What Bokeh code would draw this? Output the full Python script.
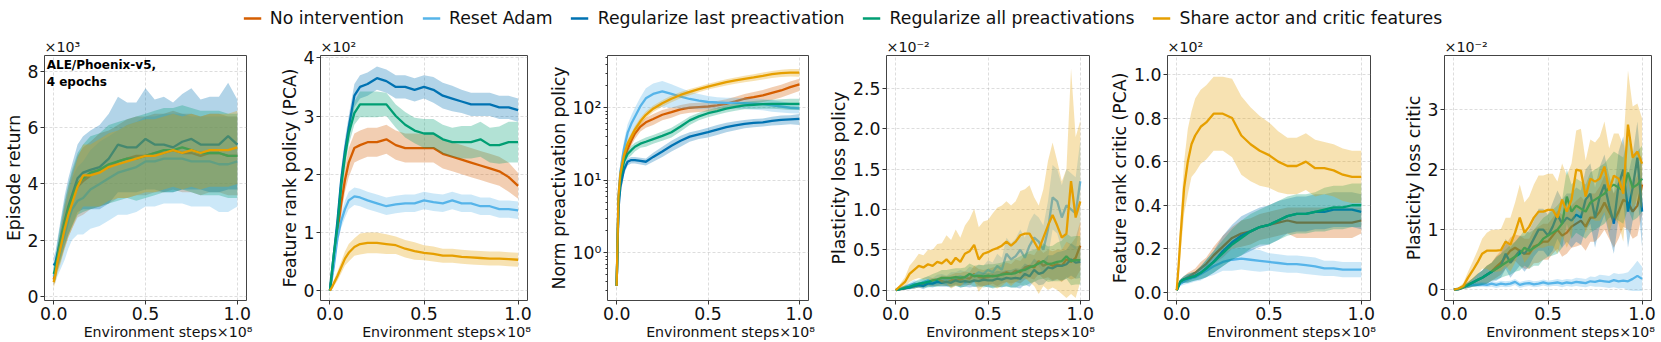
from bokeh.plotting import figure
from bokeh.models import Range1d, Label, FixedTicker, NumeralTickFormatter, Legend, LegendItem
from bokeh.layouts import row, column
from bokeh.embed import file_html
from bokeh.resources import INLINE

FONT = "DejaVu Sans"
SERIES = ["No intervention", "Reset Adam", "Regularize last preactivation",
          "Regularize all preactivations", "Share actor and critic features"]
COLORS = ["#D55E00", "#56B4E9", "#0072B2", "#009E73", "#E69F00"]

# x positions (environment steps, x1e8)
STEPS_S = [0.0, 0.01, 0.02, 0.04, 0.06, 0.08, 0.10, 0.13, 0.16, 0.20, 0.25, 0.30, 0.35,
           0.40, 0.45, 0.50, 0.55, 0.60, 0.65, 0.70, 0.75, 0.80, 0.85, 0.90, 0.95, 1.0]
STEPS_J = [0.0, 0.025, 0.05, 0.075, 0.1, 0.125, 0.15, 0.175, 0.2, 0.225,
           0.25, 0.275, 0.3, 0.325, 0.35, 0.375, 0.4, 0.425, 0.45, 0.475,
           0.5, 0.525, 0.55, 0.575, 0.6, 0.625, 0.65, 0.675, 0.7, 0.725,
           0.75, 0.775, 0.8, 0.825, 0.85, 0.875, 0.9, 0.925, 0.95, 0.975, 1.0]

# ---- Episode return (x1e3) ----
RETURN_MEAN = [
    [0.6, 0.9, 1.3, 1.9, 2.5, 3.0, 3.4, 3.9, 4.1, 4.3, 4.5, 4.6, 4.8, 4.9, 5.0, 5.0, 5.1, 5.1, 5.2, 5.1, 5.1, 5.0, 5.1, 5.1, 5.0, 5.0],
    [0.7, 0.9, 1.2, 1.7, 2.2, 2.7, 3.1, 3.4, 3.5, 3.8, 4.0, 4.2, 4.4, 4.5, 4.6, 4.8, 4.8, 4.9, 4.9, 4.9, 4.8, 4.8, 4.8, 4.7, 4.7, 4.8],
    [1.1, 1.2, 1.5, 2.1, 2.7, 3.2, 3.6, 4.2, 4.4, 4.5, 4.6, 4.9, 5.4, 5.3, 5.3, 5.6, 5.4, 5.4, 5.3, 5.5, 5.6, 5.4, 5.4, 5.4, 5.7, 5.4],
    [0.8, 1.0, 1.4, 2.0, 2.6, 3.1, 3.5, 4.0, 4.2, 4.4, 4.5, 4.7, 4.8, 4.9, 4.9, 5.0, 5.1, 5.2, 5.2, 5.3, 5.2, 5.1, 5.1, 5.1, 5.0, 5.0],
    [0.5, 0.8, 1.2, 1.8, 2.4, 2.9, 3.3, 3.9, 4.3, 4.3, 4.4, 4.6, 4.7, 4.8, 4.9, 5.0, 5.0, 5.1, 5.2, 5.1, 5.2, 5.1, 5.2, 5.2, 5.2, 5.3],
]
RETURN_SD = [
    [0.2, 0.3, 0.4, 0.6, 0.8, 0.9, 1.0, 1.1, 1.2, 1.2, 1.3, 1.3, 1.3, 1.4, 1.4, 1.4, 1.4, 1.4, 1.4, 1.4, 1.4, 1.4, 1.4, 1.4, 1.4, 1.4],
    [0.3, 0.4, 0.5, 0.7, 0.9, 1.0, 1.1, 1.2, 1.3, 1.4, 1.5, 1.5, 1.5, 1.6, 1.6, 1.6, 1.6, 1.6, 1.6, 1.6, 1.6, 1.6, 1.6, 1.7, 1.7, 1.6],
    [0.3, 0.4, 0.5, 0.7, 0.9, 1.0, 1.1, 1.2, 1.3, 1.4, 1.5, 1.6, 1.7, 1.6, 1.6, 1.8, 1.6, 1.7, 1.6, 1.7, 1.8, 1.6, 1.7, 1.7, 1.9, 1.6],
    [0.3, 0.4, 0.5, 0.7, 0.8, 0.9, 1.0, 1.1, 1.2, 1.3, 1.3, 1.4, 1.4, 1.4, 1.5, 1.5, 1.5, 1.5, 1.5, 1.5, 1.5, 1.5, 1.5, 1.5, 1.5, 1.5],
    [0.2, 0.3, 0.4, 0.6, 0.7, 0.8, 0.9, 1.0, 1.1, 1.1, 1.2, 1.2, 1.2, 1.3, 1.3, 1.3, 1.3, 1.3, 1.3, 1.3, 1.3, 1.3, 1.3, 1.3, 1.3, 1.3],
]

# ---- Feature rank policy (PCA) (x1e2) ----
RANKP_MEAN = [
    [0.0, 0.25, 0.5, 1.0, 1.5, 1.9, 2.2, 2.45, 2.5, 2.55, 2.55, 2.6, 2.5, 2.45, 2.45, 2.45, 2.45, 2.35, 2.3, 2.25, 2.2, 2.15, 2.1, 2.05, 1.95, 1.8],
    [0.0, 0.2, 0.4, 0.9, 1.2, 1.4, 1.55, 1.62, 1.6, 1.55, 1.5, 1.45, 1.48, 1.5, 1.5, 1.55, 1.52, 1.5, 1.55, 1.5, 1.5, 1.45, 1.45, 1.4, 1.4, 1.38],
    [0.0, 0.3, 0.6, 1.2, 1.9, 2.4, 2.8, 3.35, 3.5, 3.55, 3.65, 3.6, 3.5, 3.5, 3.45, 3.5, 3.45, 3.35, 3.3, 3.25, 3.2, 3.2, 3.2, 3.15, 3.15, 3.1],
    [0.0, 0.3, 0.6, 1.1, 1.8, 2.3, 2.7, 3.05, 3.2, 3.2, 3.2, 3.2, 3.0, 2.85, 2.75, 2.7, 2.7, 2.6, 2.55, 2.55, 2.55, 2.6, 2.5, 2.5, 2.55, 2.55],
    [0.0, 0.05, 0.12, 0.25, 0.4, 0.55, 0.65, 0.75, 0.8, 0.82, 0.82, 0.8, 0.78, 0.72, 0.68, 0.65, 0.63, 0.6, 0.6, 0.58, 0.57, 0.56, 0.55, 0.55, 0.54, 0.53],
]
RANKP_SD = [
    [0, 0.05, 0.1, 0.15, 0.2, 0.2, 0.25, 0.25, 0.25, 0.25, 0.25, 0.25, 0.25, 0.25, 0.25, 0.25, 0.25, 0.25, 0.25, 0.25, 0.25, 0.25, 0.25, 0.25, 0.25, 0.22],
    [0, 0.05, 0.08, 0.1, 0.12, 0.15, 0.15, 0.15, 0.15, 0.15, 0.15, 0.15, 0.15, 0.15, 0.15, 0.15, 0.15, 0.15, 0.15, 0.15, 0.15, 0.15, 0.15, 0.15, 0.15, 0.15],
    [0, 0.05, 0.1, 0.15, 0.2, 0.2, 0.2, 0.2, 0.2, 0.2, 0.2, 0.2, 0.2, 0.2, 0.2, 0.2, 0.22, 0.22, 0.22, 0.2, 0.2, 0.2, 0.2, 0.2, 0.2, 0.2],
    [0, 0.05, 0.1, 0.15, 0.2, 0.2, 0.2, 0.2, 0.22, 0.22, 0.22, 0.2, 0.2, 0.22, 0.22, 0.25, 0.25, 0.25, 0.25, 0.28, 0.28, 0.3, 0.3, 0.32, 0.35, 0.35],
    [0, 0.02, 0.05, 0.08, 0.1, 0.12, 0.15, 0.15, 0.18, 0.18, 0.18, 0.17, 0.15, 0.15, 0.15, 0.13, 0.13, 0.12, 0.12, 0.12, 0.12, 0.12, 0.12, 0.12, 0.12, 0.12],
]

# ---- Norm preactivation policy (log scale) ----
NORM_MEAN = [
    [0.35, 5, 11, 20, 27, 35, 44, 55, 63, 70, 80, 87, 95, 100, 102, 104, 108, 113, 122, 133, 140, 148, 160, 173, 192, 210],
    [0.35, 6, 13, 27, 45, 60, 75, 105, 135, 155, 168, 155, 142, 132, 125, 120, 118, 117, 117, 116, 114, 112, 108, 104, 100, 98],
    [0.35, 4, 8, 14, 18, 19, 19, 18.5, 18, 21, 25, 30, 35, 40, 43, 46, 50, 54, 57, 60, 62, 63, 66, 68, 69, 70],
    [0.35, 5, 10, 18, 23, 26, 29, 32, 34, 37, 41, 46, 55, 67, 76, 84, 90, 97, 103, 108, 110, 112, 113, 113, 113, 113],
    [0.35, 6, 12, 22, 32, 40, 50, 65, 80, 97, 115, 133, 150, 165, 180, 196, 210, 225, 238, 250, 262, 275, 290, 300, 305, 305],
]
NORM_SD = [
    [0.05, 1, 2, 3, 4, 5, 7, 8, 10, 12, 13, 14, 14, 15, 15, 15, 16, 18, 20, 22, 25, 28, 32, 35, 38, 40],
    [0.05, 2, 4, 8, 14, 18, 25, 35, 50, 60, 65, 55, 45, 35, 30, 25, 22, 20, 20, 20, 20, 20, 20, 18, 16, 15],
    [0.05, 1, 2, 2, 2, 2, 2, 2, 2, 3, 4, 5, 6, 6, 6, 7, 8, 8, 8, 8, 8, 8, 9, 10, 10, 12],
    [0.05, 1, 2, 3, 3, 4, 4, 4, 5, 5, 6, 7, 8, 9, 9, 10, 10, 11, 12, 13, 14, 15, 16, 18, 20, 20],
    [0.05, 1, 2, 3, 4, 5, 6, 8, 9, 10, 12, 14, 15, 16, 17, 18, 20, 22, 24, 26, 28, 30, 32, 34, 36, 38],
]

# ---- Plasticity loss policy (x1e-2) ----
PLP_MEAN = [
    [0, 0.01, 0.02, 0.04, 0.05, 0.06, 0.07, 0.09, 0.1, 0.1,
     0.12, 0.11, 0.12, 0.14, 0.13, 0.15, 0.14, 0.2, 0.16, 0.15,
     0.16, 0.18, 0.17, 0.2, 0.22, 0.2, 0.24, 0.22, 0.28, 0.3,
     0.28, 0.36, 0.3, 0.33, 0.3, 0.32, 0.3, 0.38, 0.35, 0.4, 0.55],
    [0, 0.02, 0.04, 0.06, 0.08, 0.07, 0.1, 0.12, 0.1, 0.13,
     0.14, 0.12, 0.15, 0.15, 0.17, 0.15, 0.2, 0.18, 0.22, 0.2,
     0.25, 0.22, 0.3, 0.25, 0.45, 0.38, 0.42, 0.5, 0.4, 0.55,
     0.65, 0.6, 0.5, 0.75, 1.15, 1.1, 0.9, 1.05, 1.0, 0.95, 1.35],
    [0, 0.01, 0.02, 0.03, 0.05, 0.06, 0.05, 0.08, 0.08, 0.1,
     0.09, 0.1, 0.09, 0.12, 0.1, 0.11, 0.1, 0.12, 0.11, 0.13,
     0.12, 0.12, 0.14, 0.13, 0.15, 0.14, 0.15, 0.14, 0.2, 0.17,
     0.25, 0.2, 0.22, 0.28, 0.27, 0.3, 0.3, 0.32, 0.38, 0.34, 0.35],
    [0, 0.01, 0.03, 0.04, 0.06, 0.08, 0.09, 0.1, 0.12, 0.13,
     0.15, 0.15, 0.15, 0.16, 0.15, 0.16, 0.2, 0.17, 0.18, 0.17,
     0.18, 0.17, 0.18, 0.19, 0.2, 0.2, 0.21, 0.24, 0.25, 0.28,
     0.3, 0.33, 0.36, 0.32, 0.33, 0.35, 0.36, 0.42, 0.36, 0.37, 0.37],
    [0, 0.05, 0.1, 0.2, 0.25, 0.3, 0.28, 0.32, 0.3, 0.35,
     0.33, 0.38, 0.32, 0.4, 0.35, 0.45, 0.48, 0.56, 0.38, 0.45,
     0.47, 0.5, 0.52, 0.55, 0.6, 0.55, 0.6, 0.68, 0.7, 0.7,
     0.6, 0.5, 0.65, 0.8, 0.93, 0.8, 0.65, 0.7, 1.35, 0.9, 1.1],
]
PLP_SD = [
    [0, 0.01, 0.01, 0.02, 0.03, 0.03, 0.04, 0.04, 0.05, 0.05,
     0.06, 0.06, 0.07, 0.07, 0.08, 0.08, 0.08, 0.1, 0.1, 0.1,
     0.1, 0.1, 0.12, 0.12, 0.12, 0.12, 0.14, 0.14, 0.15, 0.15,
     0.15, 0.16, 0.16, 0.17, 0.18, 0.18, 0.2, 0.22, 0.22, 0.25, 0.3],
    [0, 0.01, 0.02, 0.03, 0.04, 0.04, 0.05, 0.05, 0.05, 0.06,
     0.06, 0.06, 0.07, 0.07, 0.08, 0.08, 0.09, 0.09, 0.1, 0.1,
     0.12, 0.12, 0.15, 0.15, 0.2, 0.2, 0.22, 0.25, 0.25, 0.3,
     0.3, 0.3, 0.3, 0.35, 0.4, 0.4, 0.4, 0.45, 0.45, 0.45, 0.5],
    [0, 0.01, 0.01, 0.02, 0.03, 0.03, 0.04, 0.04, 0.05, 0.05,
     0.05, 0.06, 0.06, 0.06, 0.07, 0.07, 0.07, 0.08, 0.08, 0.08,
     0.09, 0.09, 0.1, 0.1, 0.1, 0.11, 0.12, 0.12, 0.13, 0.13,
     0.14, 0.14, 0.15, 0.15, 0.16, 0.17, 0.18, 0.18, 0.2, 0.2, 0.2],
    [0, 0.01, 0.02, 0.03, 0.04, 0.05, 0.06, 0.07, 0.08, 0.09,
     0.1, 0.1, 0.11, 0.11, 0.12, 0.12, 0.13, 0.13, 0.13, 0.14,
     0.14, 0.15, 0.15, 0.15, 0.16, 0.17, 0.18, 0.18, 0.2, 0.2,
     0.2, 0.2, 0.22, 0.22, 0.22, 0.24, 0.25, 0.28, 0.3, 0.3, 0.3],
    [0, 0.03, 0.06, 0.1, 0.12, 0.15, 0.15, 0.18, 0.2, 0.22,
     0.25, 0.3, 0.3, 0.35, 0.3, 0.35, 0.4, 0.45, 0.4, 0.4,
     0.4, 0.45, 0.5, 0.5, 0.5, 0.5, 0.5, 0.55, 0.55, 0.6,
     0.55, 0.55, 0.6, 0.8, 0.9, 0.8, 0.7, 0.8, 1.4, 1.0, 1.0],
]

# ---- Feature rank critic (PCA) (x1e2) ----
RANKC_MEAN = [
    [0.01, 0.03, 0.05, 0.06, 0.07, 0.08, 0.09, 0.11, 0.13, 0.17, 0.21, 0.25, 0.27, 0.28, 0.3, 0.31, 0.32, 0.33, 0.32, 0.32, 0.32, 0.32, 0.32, 0.32, 0.32, 0.33],
    [0.01, 0.03, 0.04, 0.05, 0.06, 0.065, 0.07, 0.085, 0.1, 0.12, 0.14, 0.15, 0.155, 0.15, 0.145, 0.14, 0.135, 0.13, 0.13, 0.125, 0.12, 0.11, 0.11, 0.105, 0.105, 0.105],
    [0.01, 0.03, 0.05, 0.06, 0.065, 0.07, 0.075, 0.09, 0.11, 0.14, 0.19, 0.23, 0.26, 0.28, 0.3, 0.31, 0.33, 0.35, 0.36, 0.36, 0.37, 0.37, 0.38, 0.38, 0.38, 0.37],
    [0.01, 0.03, 0.05, 0.06, 0.065, 0.07, 0.075, 0.09, 0.11, 0.14, 0.18, 0.22, 0.25, 0.28, 0.3, 0.31, 0.33, 0.35, 0.36, 0.36, 0.37, 0.38, 0.39, 0.39, 0.4, 0.4],
    [0.01, 0.12, 0.25, 0.48, 0.6, 0.68, 0.72, 0.76, 0.78, 0.82, 0.82, 0.8, 0.72, 0.68, 0.65, 0.63, 0.6, 0.58, 0.58, 0.6, 0.57, 0.57, 0.56, 0.54, 0.53, 0.53],
]
RANKC_SD = [
    [0, 0.01, 0.01, 0.015, 0.02, 0.02, 0.02, 0.03, 0.03, 0.04, 0.05, 0.05, 0.06, 0.06, 0.06, 0.06, 0.06, 0.06, 0.07, 0.07, 0.07, 0.07, 0.07, 0.07, 0.07, 0.06],
    [0, 0.01, 0.01, 0.015, 0.02, 0.02, 0.02, 0.03, 0.03, 0.04, 0.04, 0.05, 0.05, 0.05, 0.05, 0.04, 0.04, 0.04, 0.04, 0.04, 0.04, 0.035, 0.035, 0.035, 0.035, 0.035],
    [0, 0.01, 0.01, 0.015, 0.02, 0.02, 0.02, 0.03, 0.04, 0.05, 0.07, 0.08, 0.09, 0.09, 0.09, 0.09, 0.09, 0.08, 0.08, 0.08, 0.08, 0.08, 0.08, 0.08, 0.08, 0.08],
    [0, 0.01, 0.01, 0.015, 0.02, 0.02, 0.02, 0.03, 0.04, 0.05, 0.06, 0.07, 0.08, 0.08, 0.08, 0.09, 0.09, 0.09, 0.09, 0.09, 0.09, 0.1, 0.1, 0.1, 0.1, 0.1],
    [0, 0.05, 0.08, 0.12, 0.15, 0.15, 0.17, 0.17, 0.17, 0.17, 0.17, 0.18, 0.18, 0.17, 0.16, 0.15, 0.14, 0.13, 0.13, 0.13, 0.13, 0.12, 0.12, 0.12, 0.12, 0.12],
]

# ---- Plasticity loss critic (x1e-2) ----
PLC_MEAN = [
    [0, 0.01, 0.04, 0.08, 0.12, 0.16, 0.2, 0.25, 0.3, 0.38,
     0.45, 0.55, 0.65, 0.7, 0.65, 0.6, 0.6, 0.72, 0.75, 0.8,
     0.8, 0.9, 1.0, 0.9, 0.95, 1.05, 1.1, 1.15, 1.05, 1.2,
     1.2, 1.3, 1.45, 1.3, 1.15, 1.3, 1.5, 1.45, 1.3, 1.4, 1.75],
    [0, 0.02, 0.05, 0.07, 0.08, 0.08, 0.09, 0.08, 0.1, 0.08,
     0.1, 0.09, 0.1, 0.13, 0.08, 0.1, 0.11, 0.09, 0.1, 0.12,
     0.1, 0.11, 0.12, 0.1, 0.12, 0.11, 0.13, 0.12, 0.11, 0.14,
     0.13, 0.15, 0.14, 0.13, 0.16, 0.14, 0.15, 0.14, 0.18, 0.23, 0.18],
    [0, 0.01, 0.04, 0.08, 0.12, 0.16, 0.2, 0.25, 0.3, 0.35,
     0.4, 0.6, 0.45, 0.55, 0.65, 0.6, 0.7, 0.85, 1.0, 1.0,
     0.9, 1.05, 1.25, 1.1, 1.2, 1.15, 1.25, 1.2, 1.5, 1.6,
     1.2, 1.55, 1.75, 1.4, 1.1, 1.75, 2.0, 1.3, 1.7, 2.2, 1.3],
    [0, 0.01, 0.04, 0.08, 0.12, 0.16, 0.2, 0.25, 0.3, 0.35,
     0.4, 0.45, 0.5, 0.55, 0.6, 0.7, 0.65, 0.7, 0.75, 0.85,
     0.9, 0.95, 1.0, 1.1, 1.55, 1.3, 1.4, 1.35, 1.3, 1.45,
     1.5, 1.55, 1.6, 1.7, 1.75, 1.7, 1.65, 1.95, 1.7, 1.75, 1.85],
    [0, 0.02, 0.06, 0.2, 0.32, 0.45, 0.6, 0.65, 0.65, 0.65,
     0.66, 0.8, 0.75, 0.95, 1.2, 0.95, 1.05, 1.2, 1.3, 1.3,
     1.33, 1.33, 1.2, 1.5, 1.3, 1.5, 2.0, 1.98, 1.55, 1.85,
     1.8, 1.85, 2.05, 1.65, 1.9, 1.85, 1.6, 2.75, 2.2, 2.3, 2.1],
]
PLC_SD = [
    [0, 0.01, 0.03, 0.05, 0.07, 0.1, 0.12, 0.15, 0.15, 0.18,
     0.2, 0.2, 0.22, 0.22, 0.25, 0.25, 0.25, 0.28, 0.3, 0.3,
     0.3, 0.3, 0.32, 0.35, 0.35, 0.35, 0.38, 0.4, 0.4, 0.4,
     0.4, 0.42, 0.45, 0.45, 0.45, 0.45, 0.45, 0.45, 0.45, 0.5, 0.5],
    [0, 0.01, 0.02, 0.03, 0.03, 0.04, 0.04, 0.04, 0.05, 0.05,
     0.05, 0.05, 0.05, 0.05, 0.05, 0.05, 0.05, 0.05, 0.05, 0.05,
     0.05, 0.05, 0.06, 0.06, 0.06, 0.06, 0.07, 0.07, 0.07, 0.08,
     0.08, 0.1, 0.1, 0.1, 0.12, 0.12, 0.12, 0.15, 0.2, 0.25, 0.2],
    [0, 0.01, 0.03, 0.05, 0.07, 0.1, 0.12, 0.15, 0.15, 0.2,
     0.2, 0.25, 0.25, 0.25, 0.25, 0.3, 0.3, 0.3, 0.35, 0.35,
     0.35, 0.4, 0.4, 0.4, 0.4, 0.45, 0.45, 0.45, 0.5, 0.5,
     0.5, 0.5, 0.5, 0.5, 0.5, 0.55, 0.55, 0.6, 0.55, 0.6, 0.6],
    [0, 0.01, 0.03, 0.05, 0.07, 0.1, 0.12, 0.15, 0.15, 0.18,
     0.2, 0.22, 0.25, 0.25, 0.28, 0.3, 0.3, 0.3, 0.35, 0.35,
     0.35, 0.38, 0.4, 0.4, 0.45, 0.45, 0.45, 0.45, 0.45, 0.5,
     0.5, 0.5, 0.5, 0.5, 0.55, 0.55, 0.55, 0.6, 0.55, 0.55, 0.55],
    [0, 0.02, 0.05, 0.1, 0.15, 0.2, 0.25, 0.3, 0.35, 0.35,
     0.35, 0.4, 0.45, 0.5, 0.55, 0.5, 0.5, 0.55, 0.6, 0.6,
     0.6, 0.6, 0.6, 0.6, 0.6, 0.6, 0.65, 0.7, 0.6, 0.65,
     0.65, 0.7, 0.75, 0.7, 0.7, 0.75, 0.8, 0.9, 0.85, 0.8, 0.75],
]

# ---------------- layout constants ----------------
PAGE_W = 1660
FW = 207          # frame width
H = 306           # panel figure height
TOP = 18
BOTTOM = 42
BL = 56
BR = 18
FS = "17.3px"
NB = "\u00a0" * 10   # shifts the centred x label so that x10^8 ends near the frame edge


def style_axes(p, ylabel):
    for ax in (p.xaxis[0], p.yaxis[0]):
        ax.axis_line_color = None
        ax.major_tick_line_color = "#333333"
        ax.major_tick_out = 4
        ax.major_tick_in = 0
        ax.minor_tick_line_color = None
        ax.major_label_text_font = FONT
        ax.major_label_text_font_size = FS
        ax.major_label_text_color = "#111111"
        ax.axis_label_text_font = FONT
        ax.axis_label_text_font_style = "normal"
        ax.axis_label_text_color = "#111111"
    p.xaxis.major_label_standoff = 2
    p.xaxis.axis_label_standoff = 1
    p.yaxis.major_label_standoff = 2
    p.yaxis.axis_label_standoff = 1
    p.xaxis.axis_label = NB + "Environment steps\u00d710\u2078"
    p.xaxis.axis_label_text_font_size = "14.2px"
    p.yaxis.axis_label = ylabel
    p.yaxis.axis_label_text_font_size = FS
    p.xaxis.ticker = FixedTicker(ticks=[0.0, 0.5, 1.0])
    p.xaxis.formatter = NumeralTickFormatter(format="0.0")
    p.grid.grid_line_color = "#b8b8b8"
    p.grid.grid_line_alpha = 0.6
    p.grid.grid_line_dash = "3 2"
    p.grid.grid_line_width = 0.8
    p.outline_line_color = "#444444"
    p.outline_line_width = 1


def make_panel(xs, means, sds, ylabel, offset, yr, yticks, yfmt, bl, br, log=False):
    p = figure(width=bl + FW + br, height=H, output_backend="svg", toolbar_location=None,
               x_range=Range1d(-0.05, 1.05), y_range=Range1d(*yr),
               y_axis_type="log" if log else "linear",
               min_border_left=bl, min_border_right=br,
               min_border_top=TOP, min_border_bottom=BOTTOM,
               background_fill_color="white", border_fill_color="white")
    for m, s, c in zip(means, sds, COLORS):
        lo = [a - b for a, b in zip(m, s)]
        hi = [a + b for a, b in zip(m, s)]
        p.varea(x=xs, y1=lo, y2=hi, fill_color=c, fill_alpha=0.3)
        p.line(xs, m, line_color=c, line_width=2.3)
    style_axes(p, ylabel)
    if log:
        p.yaxis.ticker = FixedTicker(
            ticks=yticks,
            minor_ticks=[0.3, 0.4, 0.5, 0.6, 0.7, 0.8, 0.9, 2, 3, 4, 5, 6, 7, 8, 9,
                         20, 30, 40, 50, 60, 70, 80, 90, 200, 300, 400, 500])
        p.yaxis.major_label_overrides = {1: "10\u2070", 10: "10\u00b9", 100: "10\u00b2",
                                         "1": "10\u2070", "10": "10\u00b9", "100": "10\u00b2"}
        p.yaxis.minor_tick_line_color = "#333333"
        p.yaxis.minor_tick_out = 2
        p.yaxis.minor_tick_in = 0
    else:
        p.yaxis.ticker = FixedTicker(ticks=yticks)
        p.yaxis.formatter = NumeralTickFormatter(format=yfmt)
    p.title.text = offset
    p.title.text_font = FONT
    p.title.text_font_size = "14.2px"
    p.title.text_font_style = "normal"
    p.title.text_color = "#111111"
    p.title.align = "left"
    p.title.standoff = 1
    return p


p1 = make_panel(STEPS_S, RETURN_MEAN, RETURN_SD, "Episode return", "\u00d710\u00b3",
                (-0.15, 8.57), [0, 2, 4, 6, 8], "0", 39, BR)
p1.add_layout(Label(x=-0.038, y=8.48, text="ALE/Phoenix-v5,\n4 epochs",
                    text_font=FONT, text_font_size="12px", text_font_style="bold",
                    text_baseline="top", text_align="left", text_color="black"))
p2 = make_panel(STEPS_S, RANKP_MEAN, RANKP_SD, "Feature rank policy (PCA)", "\u00d710\u00b2",
                (-0.17, 4.04), [0, 1, 2, 3, 4], "0", BL, BR)
p3 = make_panel(STEPS_S, NORM_MEAN, NORM_SD, "Norm preactivation policy", "",
                (0.22, 525), [1, 10, 100], "0", BL, BR, log=True)
p4 = make_panel(STEPS_J, PLP_MEAN, PLP_SD, "Plasticity loss policy", "\u00d710\u207b\u00b2",
                (-0.13, 2.91), [0.0, 0.5, 1.0, 1.5, 2.0, 2.5], "0.0", BL, BR)
p5 = make_panel(STEPS_S, RANKC_MEAN, RANKC_SD, "Feature rank critic (PCA)", "\u00d710\u00b2",
                (-0.037, 1.087), [0.0, 0.2, 0.4, 0.6, 0.8, 1.0], "0.0", BL, BR)
p6 = make_panel(STEPS_J, PLC_MEAN, PLC_SD, "Plasticity loss critic", "\u00d710\u207b\u00b2",
                (-0.18, 3.9), [0, 1, 2, 3], "0", BL, 9)

# ---------------- legend strip ----------------
# the legend's line samples come from real renderers whose data lie outside this strip's range
leg = figure(width=PAGE_W, height=36, output_backend="svg", toolbar_location=None,
             x_range=Range1d(0, 1), y_range=Range1d(1000, 1001),
             x_axis_location=None, y_axis_location=None,
             min_border_left=25, min_border_right=0, min_border_top=0, min_border_bottom=0,
             outline_line_color=None, background_fill_color="white", border_fill_color="white")
leg.xgrid.visible = False
leg.ygrid.visible = False
items = []
for name, c, m in zip(SERIES, COLORS, RANKC_MEAN):
    r = leg.line(STEPS_S, m, line_color=c, line_width=2.5)
    items.append(LegendItem(label=name, renderers=[r]))
legend = Legend(items=items, orientation="horizontal", location="center",
                label_text_font=FONT, label_text_font_size=FS, label_text_color="#111111",
                glyph_width=18, glyph_height=18, label_standoff=9, spacing=18,
                label_height=18, padding=0, margin=0, border_line_color=None,
                background_fill_alpha=0)
leg.add_layout(legend)

layout = column(leg, row(p1, p2, p3, p4, p5, p6))
open("out.html", "w").write(file_html(layout, INLINE))
